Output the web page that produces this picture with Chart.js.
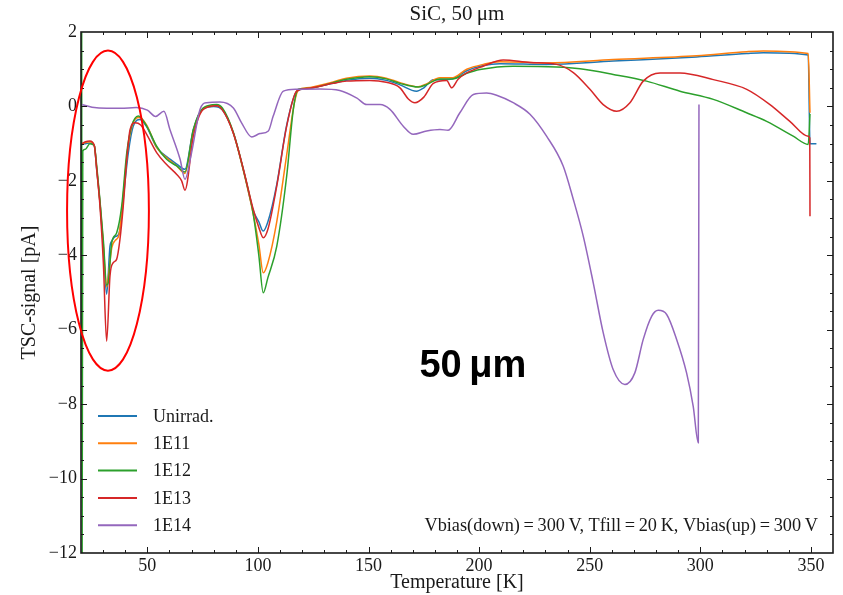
<!DOCTYPE html>
<html>
<head>
<meta charset="utf-8">
<title>SiC TSC</title>
<script src="https://cdn.jsdelivr.net/npm/chart.js@4.4.1/dist/chart.umd.min.js"></script>
<style>
  html, body { margin: 0; padding: 0; background: #fff; }
</style>
</head>
<body>
<canvas id="tscChart" width="843" height="595"></canvas>
<script>
// TSC spectra, SiC 50 um, one array pair per fluence
const seriesLabels = ["Unirrad.", "1E11", "1E12", "1E13", "1E14"];
const seriesColors = ["#1f77b4", "#ff7f0e", "#2ca02c", "#d62728", "#9467bd"];

const tUnirrad = [20.5, 22, 24, 26, 27.1, 28.6, 30.1, 31.6, 33.1, 33.9, 35.4, 37.1, 38.4, 39.1, 41.4, 43.6, 46.7, 49.7, 54.2, 58.7, 63.3, 67, 70.8, 75.3, 80, 84, 88.9, 93.4, 97.9, 100.4, 102.4, 104.5, 108.5, 113, 117.5, 122, 134, 140, 150.6, 158, 164.2, 171.7, 175, 179.3, 185.3, 188, 194.4, 201.9, 209.4, 230.5, 260.6, 298.3, 321, 328.5, 348.8, 349.6, 352.5];
const vUnirrad = [-1.0, -1.0, -0.98, -1.05, -1.7, -2.6, -3.8, -5.05, -3.76, -3.62, -3.5, -3.43, -2.95, -2.5, -1.24, -0.53, -0.35, -0.55, -1.1, -1.35, -1.55, -1.69, -0.62, -0.06, 0.0, -0.1, -0.72, -1.7, -2.8, -3.1, -3.35, -3.1, -2.1, -0.5, 0.4, 0.48, 0.62, 0.7, 0.76, 0.7, 0.58, 0.41, 0.5, 0.72, 0.72, 0.74, 0.96, 1.1, 1.15, 1.13, 1.22, 1.33, 1.42, 1.44, 1.38, -1.0, -1.0];

const t1E11 = [20.5, 22, 24, 26, 27.1, 28.6, 30.1, 31.6, 32.5, 33.9, 35.5, 37.2, 38.8, 41, 43.2, 46.2, 49.7, 54.2, 58.7, 63.3, 67, 70.8, 75.3, 80.5, 84, 88.9, 93.4, 97.9, 100.4, 102.4, 104.5, 108.5, 113, 116.5, 118.5, 122, 134, 140, 150.6, 158, 164.2, 172.5, 176, 182.3, 187.9, 194.4, 201.9, 209.4, 230.5, 260.6, 298.3, 321, 328.5, 348.8, 349.6];
const v1E11 = [-1.0, -0.97, -0.95, -1.05, -1.65, -2.6, -3.7, -4.85, -4.5, -3.8, -3.6, -3.45, -2.6, -1.2, -0.5, -0.3, -0.5, -1.1, -1.38, -1.6, -1.8, -0.65, -0.05, 0.03, -0.08, -0.72, -1.72, -2.9, -3.7, -4.47, -4.2, -3.1, -1.3, 0.1, 0.46, 0.5, 0.66, 0.76, 0.82, 0.76, 0.64, 0.53, 0.6, 0.77, 0.77, 1.0, 1.13, 1.2, 1.17, 1.26, 1.36, 1.47, 1.49, 1.42, -0.17];

const t1E12 = [20.3, 20.5, 20.8, 22, 24, 26, 27.1, 28.6, 30.1, 31.6, 32.3, 33.9, 36.1, 38.4, 40.7, 42.9, 45.9, 49.7, 54.2, 58.7, 63.3, 67, 70.8, 75.3, 81.3, 84, 88.9, 93.4, 97.9, 100.4, 102.4, 104.5, 108.5, 113, 116, 118.2, 122, 134, 140, 150.6, 158, 164.2, 172.5, 176, 182.3, 187.9, 194.4, 200.4, 215.4, 235, 245.6, 260.6, 275.7, 290.8, 305.9, 320.9, 330, 342, 348.8, 349.6];
const v1E12 = [2.6, -12.6, -1.2, -1.15, -1.0, -1.05, -1.6, -2.55, -3.6, -4.8, -4.74, -3.66, -3.4, -2.68, -1.24, -0.53, -0.26, -0.53, -1.07, -1.42, -1.6, -1.76, -0.62, -0.04, 0.05, -0.05, -0.7, -1.7, -2.9, -4.0, -5.01, -4.6, -3.76, -1.87, -0.08, 0.46, 0.48, 0.64, 0.73, 0.8, 0.74, 0.62, 0.52, 0.58, 0.74, 0.74, 0.89, 0.99, 1.08, 1.06, 1.01, 0.86, 0.68, 0.41, 0.19, -0.17, -0.4, -0.8, -1.02, -0.2];

const t1E13 = [20.5, 22, 24, 26, 27.1, 28.6, 30.1, 31.6, 33.1, 34.6, 36.1, 37.6, 39.1, 40.7, 42.2, 44.4, 47, 49.7, 54.2, 58.7, 63.3, 65.5, 67, 70.8, 75.3, 81.3, 84, 88.9, 93.4, 97.9, 100.4, 102.4, 104.5, 108.5, 113, 117.5, 122, 134, 140, 150.6, 158, 164.2, 168, 171, 175, 179.3, 185.3, 187.6, 190.5, 194.4, 201.8, 210.9, 223, 235, 242.6, 250.1, 256.1, 262.2, 268.2, 274.2, 281.8, 290.8, 305.9, 321, 331.5, 340.5, 348.8, 349.5, 349.6];
const v1E13 = [-1.0, -0.95, -0.93, -1.05, -1.7, -2.7, -4.2, -6.31, -4.56, -4.2, -4.11, -3.58, -2.68, -1.42, -0.62, -0.44, -0.5, -0.75, -1.24, -1.56, -1.83, -2.0, -2.25, -0.8, -0.08, 0.02, -0.1, -0.72, -1.68, -2.77, -3.25, -3.53, -3.3, -2.14, -0.53, 0.41, 0.48, 0.62, 0.68, 0.7, 0.65, 0.5, 0.2, 0.1, 0.25, 0.62, 0.7, 0.5, 0.73, 0.9, 1.08, 1.25, 1.18, 1.13, 0.91, 0.46, 0.05, -0.13, 0.1, 0.68, 0.9, 0.9, 0.72, 0.46, 0.05, -0.4, -0.8, -0.85, -2.95];

const t1E14 = [20.5, 25, 31.6, 38, 45, 50, 53.7, 57.5, 60.2, 64.8, 67, 70, 73.8, 76.8, 82.8, 88.9, 92.6, 97.2, 100.9, 104.7, 106.9, 111.5, 117.5, 128, 137, 144.6, 149.2, 155.2, 159.7, 165.7, 170.2, 176.3, 182.3, 186, 191.3, 197.4, 203.4, 207.9, 215.4, 223, 230.5, 238, 242.6, 247.1, 251.6, 256.1, 260.6, 265.9, 270.4, 274.2, 278, 281, 284.8, 289.3, 293.8, 296.8, 299.1, 299.4];
const v1E14 = [0.05, -0.02, -0.05, -0.05, -0.03, -0.1, -0.27, -0.13, -0.62, -1.42, -1.96, -1.24, -0.08, 0.1, 0.12, -0.04, -0.44, -0.82, -0.73, -0.66, -0.26, 0.41, 0.46, 0.47, 0.43, 0.23, 0.05, 0.05, -0.08, -0.53, -0.75, -0.66, -0.62, -0.64, -0.17, 0.32, 0.36, 0.3, 0.1, -0.21, -0.8, -1.6, -2.5, -3.49, -4.74, -6.08, -7.07, -7.47, -7.16, -6.26, -5.64, -5.48, -5.59, -6.26, -7.16, -8.06, -9.04, 0.05];

const xMajorTicks = [50, 100, 150, 200, 250, 300, 350];
const yMajorTicks = [-12, -10, -8, -6, -4, -2, 0, 2];

const serif = "'Liberation Serif', 'DejaVu Serif', serif";
const ink = "#1a1a1a";

const seriesT = [tUnirrad, t1E11, t1E12, t1E13, t1E14];
const seriesV = [vUnirrad, v1E11, v1E12, v1E13, v1E14];

const datasets = seriesLabels.map((label, i) => ({
  label: label,
  data: seriesT[i].map((t, k) => ({ x: t, y: seriesV[i][k] })),
  borderColor: seriesColors[i],
  backgroundColor: seriesColors[i],
  borderWidth: 1.5,
  pointRadius: 0,
  fill: false,
  cubicInterpolationMode: "monotone",
  order: seriesLabels.length - i, // later fluences on top
}));

// frame with inward major/minor ticks on all four sides
const frameTicks = {
  id: "frameTicks",
  afterDatasetsDraw(chart) {
    const { ctx, chartArea: a, scales: { x, y } } = chart;
    ctx.save();
    ctx.strokeStyle = ink;
    ctx.lineWidth = 1;
    ctx.beginPath();
    for (let t = 30; t < 360; t += 10) {
      const px = Math.round(x.getPixelForValue(t)) + 0.5;
      const len = t % 50 === 0 ? 6 : 3;
      ctx.moveTo(px, a.bottom); ctx.lineTo(px, a.bottom - len);
      ctx.moveTo(px, a.top); ctx.lineTo(px, a.top + len);
    }
    for (let v = -11.5; v < 2; v += 0.5) {
      const py = Math.round(y.getPixelForValue(v)) + 0.5;
      const len = v % 2 === 0 ? 6 : 3;
      ctx.moveTo(a.left, py); ctx.lineTo(a.left + len, py);
      ctx.moveTo(a.right, py); ctx.lineTo(a.right - len, py);
    }
    ctx.stroke();
    ctx.lineWidth = 1.6;
    ctx.strokeRect(a.left, a.top, a.right - a.left, a.bottom - a.top);
    ctx.restore();
  },
};

// legend inside the lower-left corner, plus notes and the marked region
const notes = {
  id: "notes",
  afterDraw(chart) {
    const { ctx, chartArea: a, scales: { x, y } } = chart;
    ctx.save();

    ctx.font = "18px " + serif;
    ctx.textBaseline = "middle";
    ctx.textAlign = "left";
    chart.data.datasets.forEach((ds, i) => {
      const ly = a.bottom - 137 + i * 27.3;
      ctx.strokeStyle = ds.borderColor;
      ctx.lineWidth = 2;
      ctx.beginPath();
      ctx.moveTo(a.left + 17, ly);
      ctx.lineTo(a.left + 56, ly);
      ctx.stroke();
      ctx.fillStyle = ink;
      ctx.fillText(ds.label, a.left + 72, ly + 1);
    });

    ctx.font = "18.3px " + serif;
    ctx.textAlign = "right";
    ctx.textBaseline = "alphabetic";
    ctx.fillText("Vbias(down)\u2009=\u2009300\u2009V, Tfill\u2009=\u200920\u2009K, Vbias(up)\u2009=\u2009300\u2009V", a.right - 15, a.bottom - 22);

    ctx.font = "bold 38px 'Liberation Sans', Arial, sans-serif";
    ctx.textAlign = "center";
    ctx.fillStyle = "#000";
    ctx.fillText("50\u2009\u03bcm", x.getPixelForValue(197.2), y.getPixelForValue(-7.28));

    // red ellipse round the low-temperature peak
    const cx = x.getPixelForValue(32.2);
    const cy = y.getPixelForValue(-2.8);
    const rx = x.getPixelForValue(32.2 + 18.5) - cx;
    const ry = y.getPixelForValue(-2.8 - 4.3) - cy;
    ctx.strokeStyle = "#ff0000";
    ctx.lineWidth = 2;
    ctx.beginPath();
    ctx.ellipse(cx, cy, rx, ry, 0, 0, Math.PI * 2);
    ctx.stroke();
    ctx.restore();
  },
};

new Chart(document.getElementById("tscChart"), {
  type: "line",
  data: { datasets: datasets },
  options: {
    responsive: false,
    animation: false,
    devicePixelRatio: 1,
    layout: { padding: { left: 0, right: 10, top: 0, bottom: 0 } },
    plugins: {
      legend: { display: false },
      tooltip: { enabled: false },
      title: {
        display: true,
        fullSize: false,
        text: "SiC, 50\u2009\u03bcm",
        color: ink,
        font: { family: serif, size: 21, weight: "normal", lineHeight: 1.2 },
        padding: { top: 2, bottom: 4.8 },
      },
    },
    scales: {
      x: {
        type: "linear",
        min: 20,
        max: 360,
        afterBuildTicks: (scale) => { scale.ticks = xMajorTicks.map((v) => ({ value: v })); },
        afterFit: (scale) => { scale.height = 42; },
        grid: { display: false, drawTicks: false },
        border: { display: false },
        ticks: { color: ink, font: { family: serif, size: 18 }, padding: 2, maxRotation: 0, autoSkip: false },
        title: {
          display: true,
          text: "Temperature [K]",
          color: ink,
          font: { family: serif, size: 20 },
          padding: { top: 0, bottom: 0 },
        },
      },
      y: {
        type: "linear",
        min: -12,
        max: 2,
        afterBuildTicks: (scale) => { scale.ticks = yMajorTicks.map((v) => ({ value: v })); },
        afterFit: (scale) => { scale.width = 81; },
        grid: { display: false, drawTicks: false },
        border: { display: false },
        ticks: {
          color: ink,
          font: { family: serif, size: 18 },
          padding: 4,
          callback: (v) => String(v).replace("-", "\u2212"),
        },
        title: {
          display: true,
          text: "TSC-signal [pA]",
          color: ink,
          font: { family: serif, size: 20 },
          padding: { top: 18, bottom: 0 },
        },
      },
    },
  },
  plugins: [frameTicks, notes],
});
</script>
</body>
</html>
